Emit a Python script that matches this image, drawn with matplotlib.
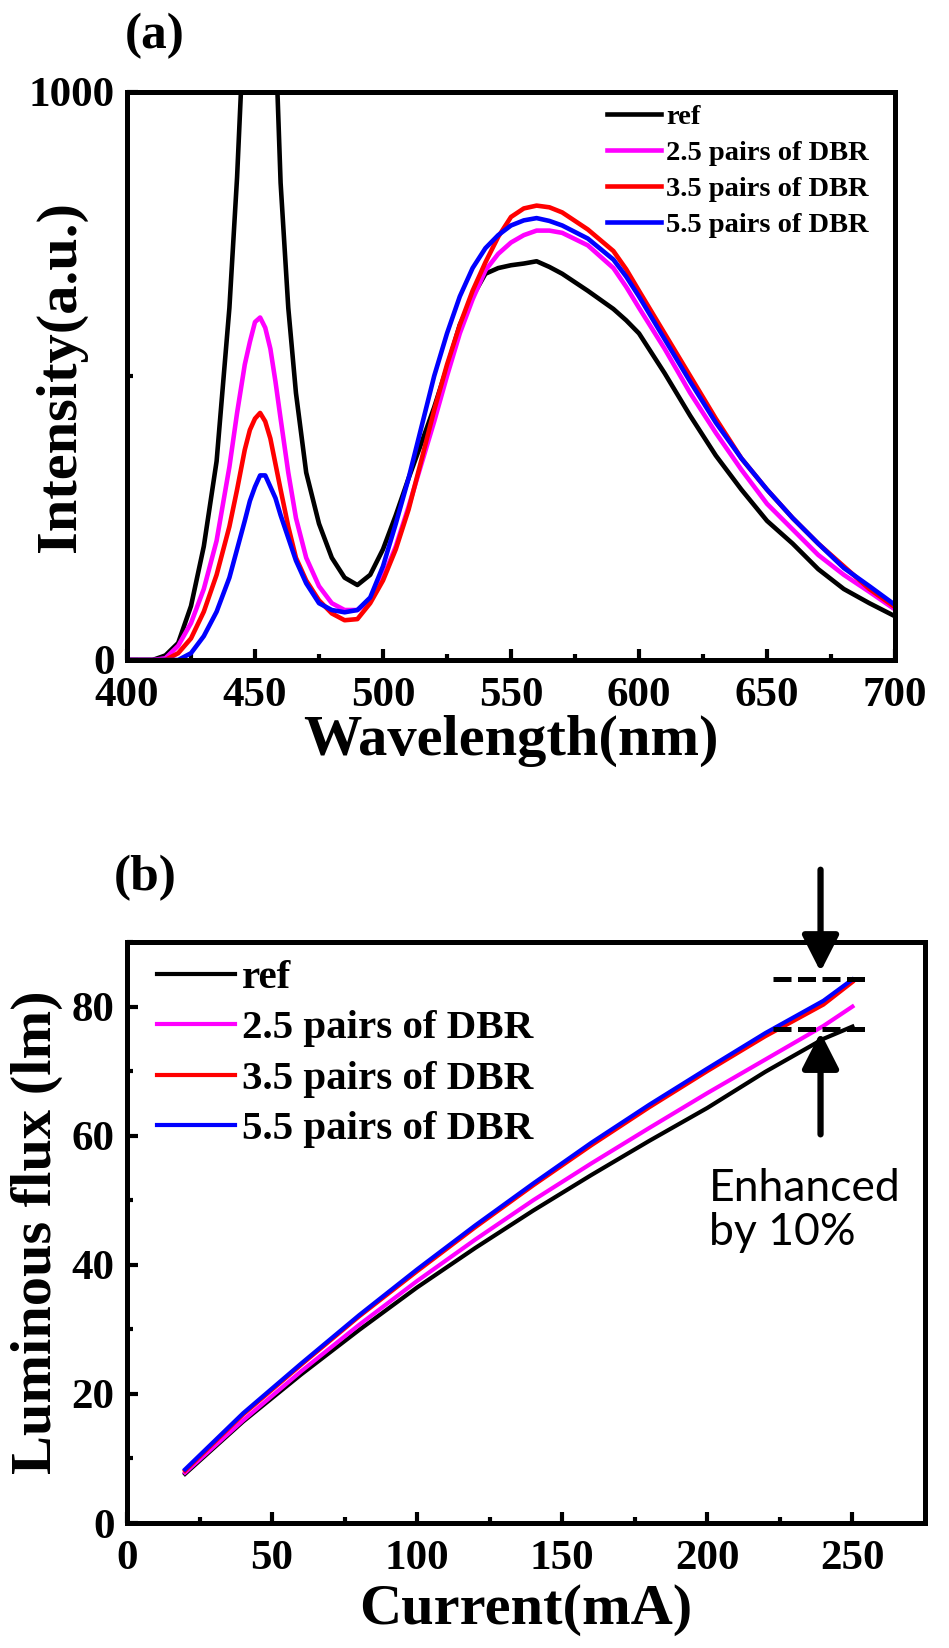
import matplotlib.pyplot as plt
from matplotlib.patches import FancyArrowPatch

plt.rcParams['font.family'] = ['Liberation Serif', 'DejaVu Serif']
plt.rcParams['font.weight'] = 'bold'

# ---- panel (a): emission spectra ----
wavelength = [400, 410, 415, 420, 425, 430, 435, 440, 443, 446, 448, 450, 452, 454,
              456, 458, 460, 463, 466, 470, 475, 480, 485, 490, 495, 500, 505, 510,
              515, 520, 525, 530, 535, 540, 545, 550, 555, 560, 565, 570, 580, 590,
              595, 600, 610, 620, 630, 640, 650, 660, 670, 680, 690, 700]
spec_ref = [0, 0, 8, 30, 95, 200, 350, 620, 850, 1150, 1350, 1480, 1520, 1480,
            1330, 1100, 840, 620, 470, 330, 240, 180, 145, 132, 150, 195, 255, 320,
            382, 445, 515, 590, 640, 680, 690, 695, 698, 702, 692, 680, 650, 618,
            598, 575, 505, 430, 360, 300, 245, 205, 160, 125, 100, 77]
spec_25 = [0, 0, 3, 25, 65, 125, 210, 340, 435, 520, 560, 595, 603, 585,
           548, 490, 425, 330, 250, 180, 130, 100, 88, 88, 105, 145, 200, 270,
           345, 420, 500, 575, 635, 686, 715, 735, 748, 756, 756, 752, 730, 690,
           657, 620, 548, 470, 400, 335, 275, 230, 185, 150, 120, 89]
spec_35 = [0, 0, 0, 12, 38, 85, 150, 235, 300, 370, 405, 425, 435, 420,
           390, 345, 300, 235, 180, 140, 105, 82, 70, 72, 100, 140, 195, 265,
           352, 440, 520, 590, 650, 700, 745, 780, 795, 800, 797, 788, 758, 720,
           688, 650, 575, 500, 425, 355, 300, 250, 205, 165, 125, 93]
spec_55 = [0, 0, 0, 0, 12, 42, 85, 145, 195, 245, 280, 305, 325, 325,
           305, 285, 255, 215, 175, 135, 100, 88, 84, 88, 110, 165, 240, 320,
           410, 500, 575, 640, 690, 725, 748, 765, 774, 778, 773, 765, 742, 705,
           675, 640, 565, 490, 418, 355, 300, 250, 205, 162, 130, 97]

# ---- panel (b): luminous flux vs current ----
current = [20, 40, 60, 80, 100, 120, 140, 160, 180, 200, 220, 240, 250]
flux_ref = [7.6, 15.7, 23.0, 29.9, 36.5, 42.6, 48.4, 53.9, 59.2, 64.3, 69.9, 75.0, 76.9]
flux_25 = [7.8, 15.9, 23.5, 30.7, 37.5, 43.9, 50.0, 55.7, 61.2, 66.6, 71.8, 77.0, 80.0]
flux_35 = [8.1, 16.8, 24.5, 32.0, 39.0, 45.8, 52.3, 58.5, 64.4, 70.0, 75.4, 80.3, 83.8]
flux_55 = [8.3, 17.0, 24.7, 32.2, 39.3, 46.1, 52.6, 58.9, 64.8, 70.4, 75.9, 80.9, 84.2]

labels = ['ref', '2.5 pairs of DBR', '3.5 pairs of DBR', '5.5 pairs of DBR']
colors = ['black', '#ff00ff', '#ff0000', '#0000ff']

W, H = 949, 1648
fig = plt.figure(figsize=(W / 100, H / 100), dpi=100)


def style_axes(ax):
    for s in ax.spines.values():
        s.set_linewidth(3.6)
    ax.tick_params(which='both', direction='in', width=3, labelsize=31,
                   top=False, right=False)
    ax.tick_params(axis='x', pad=12)
    ax.tick_params(axis='y', pad=9)
    ax.tick_params(which='major', length=8)
    ax.tick_params(which='minor', length=4)
    for lab in ax.get_xticklabels() + ax.get_yticklabels():
        lab.set_fontweight('bold')


# panel (a)
ax1 = fig.add_axes([127 / W, 1 - 660 / H, 768 / W, 568 / H])
for y, c, l in zip([spec_ref, spec_25, spec_35, spec_55], colors, labels):
    ax1.plot(wavelength, y, color=c, lw=3.3, label=l)
ax1.set_xlim(400, 700)
ax1.set_ylim(0, 1000)
ax1.set_xticks(range(400, 701, 50))
ax1.set_xticks(range(425, 700, 50), minor=True)
ax1.set_yticks([0, 1000])
ax1.set_yticks([500], minor=True)
style_axes(ax1)
ax1.legend(loc='upper left', bbox_to_anchor=(0.625, 0.979), frameon=False,
           prop={'size': 20.5, 'weight': 'bold'}, handlelength=1.9,
           handletextpad=0.17, labelspacing=0.36, borderpad=0, borderaxespad=0)

fig.text(155 / W, 1 - 36 / H, '(a)', fontsize=37, ha='center', va='center')
fig.text(511 / W, 1 - 741 / H, 'Wavelength(nm)', fontsize=42, ha='center', va='center')
fig.text(61 / W, 1 - 376 / H, 'Intensity(a.u.)', fontsize=42, rotation=90,
         ha='center', va='center')

# panel (b)
ax2 = fig.add_axes([127 / W, 1 - 1523 / H, 798 / W, 581 / H])
for y, c, l in zip([flux_ref, flux_25, flux_35, flux_55], colors, labels):
    ax2.plot(current, y, color=c, lw=3, label=l)
ax2.set_xlim(0, 275)
ax2.set_ylim(0, 90)
ax2.set_xticks(range(0, 251, 50))
ax2.set_xticks(range(25, 275, 50), minor=True)
ax2.set_yticks(range(0, 81, 20))
ax2.set_yticks(range(10, 91, 20), minor=True)
style_axes(ax2)
ax2.legend(loc='upper left', bbox_to_anchor=(0.0376, 0.970), frameon=False,
           prop={'size': 29.5, 'weight': 'bold'}, handlelength=1.9,
           handletextpad=0.17, labelspacing=0.31, borderpad=0, borderaxespad=0)

# enhancement markers
ax2.plot([222.5, 256.5], [84.2, 84.2], color='black', lw=3.6, ls=(0, (3.6, 1.3)),
         clip_on=False)
ax2.plot([222.5, 256.5], [76.6, 76.6], color='black', lw=3.6, ls=(0, (3.6, 1.3)),
         clip_on=False)
for start, end in [((239, 101.2), (239, 85.4)), ((239, 60.2), (239, 76.0))]:
    arr = FancyArrowPatch(start, end, arrowstyle='-|>,head_length=0.55,head_width=0.28',
                          mutation_scale=40, lw=4.5, color='black',
                          shrinkA=0, shrinkB=0, clip_on=False)
    ax2.add_patch(arr)
ax2.text(200.4, 55.0, 'Enhanced\nby 10%', fontsize=32, family=['Lato', 'DejaVu Sans'],
         fontweight='normal', ha='left', va='top', linespacing=1.1, clip_on=False)

fig.text(145 / W, 1 - 878 / H, '(b)', fontsize=37, ha='center', va='center')
fig.text(526 / W, 1 - 1610 / H, 'Current(mA)', fontsize=42, ha='center', va='center')
fig.text(37 / W, 1 - 1232 / H, 'Luminous flux (lm)', fontsize=42, rotation=90,
         ha='center', va='center')

fig.savefig('out.png', dpi=100)
